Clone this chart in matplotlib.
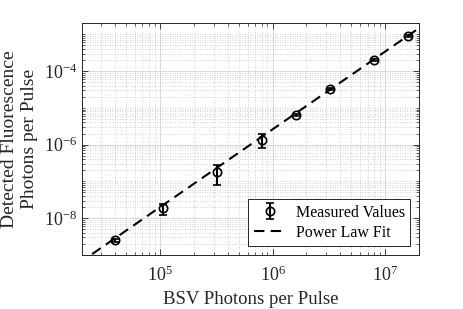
import matplotlib
matplotlib.use("Agg")
import matplotlib.pyplot as plt
import numpy as np
from matplotlib.ticker import LogLocator, NullFormatter

# measured data
bsv_photons = [3.98e4, 1.06e5, 3.2e5, 8.07e5, 1.61e6, 3.24e6, 8.03e6, 1.61e7]
fluor_photons = [2.5e-9, 1.84e-8, 1.79e-7, 1.35e-6, 6.45e-6, 3.2e-5, 2.04e-4, 9.1e-4]
fluor_err = [0.25e-9, 0.65e-8, 0.98e-7, 0.55e-6, 0.5e-6, 2.0e-6, 1.2e-5, 5.0e-5]

# power law fit y = A * x^k
fit_A = 5.16e-19
fit_k = 2.117
fit_xrange = [2.5e4, 2.0e7]

plt.rcParams['font.family'] = ['Liberation Serif', 'DejaVu Serif']
plt.rcParams['mathtext.fontset'] = 'stix'

fig = plt.figure(figsize=(4.63, 3.09), dpi=100)
ax = fig.add_axes([0.177, 0.175, 0.728, 0.751])

xf = np.logspace(np.log10(fit_xrange[0]), np.log10(fit_xrange[1]), 200)
eb = ax.errorbar(bsv_photons, fluor_photons, yerr=fluor_err, fmt='o', color='black',
                 mfc='none', ms=6, mew=1.2, elinewidth=1.5, capsize=3, capthick=1.5,
                 label='Measured Values', zorder=3)
fit_line, = ax.plot(xf, fit_A * xf ** fit_k, color='black', lw=1.5, dashes=(5, 3),
                    label='Power Law Fit', zorder=2)

ax.set_xscale('log')
ax.set_yscale('log')
ax.set_xlim(2.03e4, 2.0e7)
ax.set_ylim(1e-9, 2.05e-3)

ax.xaxis.set_major_locator(LogLocator(base=10, numticks=10))
ax.yaxis.set_major_locator(matplotlib.ticker.FixedLocator([1e-8, 1e-6, 1e-4]))
ax.xaxis.set_minor_locator(LogLocator(base=10, subs=np.arange(2, 10), numticks=20))
ax.yaxis.set_minor_locator(LogLocator(base=10, subs=np.arange(1, 10), numticks=20))
ax.yaxis.set_minor_formatter(NullFormatter())
ax.xaxis.set_minor_formatter(NullFormatter())
ax.yaxis.set_major_formatter(matplotlib.ticker.LogFormatterSciNotation())

ax.grid(True, which='major', color='#dcdcdc', lw=0.8, ls='-')
ax.grid(True, which='minor', color='#c4c4c4', lw=0.6, ls=(0, (1, 2)))
ax.set_axisbelow(True)

ax.tick_params(which='both', direction='in', top=True, right=True, colors='#262626',
               labelsize=13, labelcolor='#262626')
ax.tick_params(which='major', length=4, width=0.6)
ax.tick_params(which='minor', length=2.5, width=0.5)
ax.tick_params(axis='x', pad=8)
for s in ax.spines.values():
    s.set_color('#262626')
    s.set_linewidth(0.7)

ax.set_xlabel('BSV Photons per Pulse', fontsize=13.5, color='#262626')
ax.set_ylabel('Detected Fluorescence\nPhotons per Pulse', fontsize=14,
              color='#262626', linespacing=1.25)

leg = ax.legend([eb, fit_line], ['Measured Values', 'Power Law Fit'],
                loc='lower right', fontsize=11.5, fancybox=False, framealpha=1,
                edgecolor='#262626', handlelength=2.0, handletextpad=0.6,
                borderpad=0.35, labelspacing=0.25, borderaxespad=0.55)
leg.get_frame().set_linewidth(0.7)

fig.savefig('out.png', dpi=100)
